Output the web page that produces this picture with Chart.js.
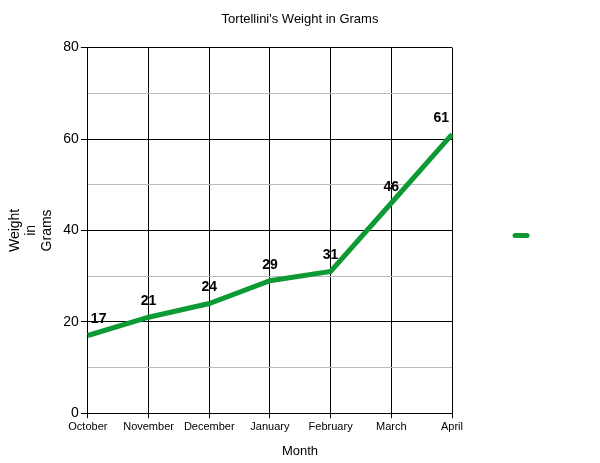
<!DOCTYPE html>
<html>
<head>
<meta charset="utf-8">
<script src="https://cdn.jsdelivr.net/npm/chart.js@4.4.0/dist/chart.umd.min.js"></script>
<style>
html,body{margin:0;padding:0;background:#fff;}
#wrap{width:600px;height:463px;}
</style>
</head>
<body>
<div id="wrap"><canvas id="c"></canvas></div>
<script>
const months = ['October','November','December','January','February','March','April'];
const weights = [17, 21, 24, 29, 31, 46, 61];
const yMin = 0, yMax = 80, yStep = 10, yLabelStep = 20;
const lineColor = '#0d9a35';
const FONT = '"Liberation Sans", Arial, sans-serif';

const labelPlugin = {
  id: 'pointLabels',
  afterDatasetsDraw(chart) {
    const ctx = chart.ctx;
    const meta = chart.getDatasetMeta(0);
    const area = chart.chartArea;
    ctx.save();
    ctx.font = 'bold 14px ' + FONT;
    ctx.fillStyle = '#000';
    ctx.textBaseline = 'middle';
    ctx.textAlign = 'center';
    meta.data.forEach((pt, i) => {
      const txt = String(weights[i]);
      const w = ctx.measureText(txt).width;
      let x = pt.x;
      x = Math.max(area.left + w / 2 + 3, Math.min(area.right - w / 2 - 3, x));
      ctx.fillText(txt, x, pt.y - 16);
    });
    ctx.restore();
  }
};

const legendPlugin = {
  id: 'legendLine',
  afterDraw(chart) {
    const ctx = chart.ctx;
    const area = chart.chartArea;
    const cx = area.right + 69;
    const cy = (area.top + area.bottom) / 2 + 5;
    ctx.save();
    ctx.strokeStyle = lineColor;
    ctx.lineWidth = 5;
    ctx.lineCap = 'round';
    ctx.beginPath();
    ctx.moveTo(cx - 6, cy);
    ctx.lineTo(cx + 6, cy);
    ctx.stroke();
    ctx.restore();
  }
};

new Chart(document.getElementById('c'), {
  type: 'line',
  data: {
    labels: months,
    datasets: [{
      label: '',
      data: weights,
      borderColor: lineColor,
      backgroundColor: lineColor,
      borderWidth: 5,
      pointRadius: 0,
      tension: 0,
      fill: false
    }]
  },
  options: {
    responsive: true,
    maintainAspectRatio: false,
    animation: false,
    layout: { padding: { left: 0, right: 0, top: 12, bottom: 4 } },
    plugins: {
      legend: { display: false },
      tooltip: { enabled: false },
      title: {
        display: true,
        text: "Tortellini's Weight in Grams",
        color: '#000',
        font: { family: FONT, size: 13, weight: 'normal' },
        padding: { top: 0, bottom: 20 }
      },
      subtitle: {
        display: true,
        position: 'bottom',
        text: 'Month',
        color: '#000',
        font: { family: FONT, size: 13, weight: 'normal' },
        padding: { top: 8, bottom: 0 }
      }
    },
    scales: {
      x: {
        offset: false,
        border: { color: '#000', width: 1 },
        grid: { color: '#000', lineWidth: 1, tickLength: 5, tickColor: '#000', drawOnChartArea: true },
        ticks: {
          color: '#000', maxRotation: 0, autoSkip: false, padding: 2,
          font: { family: FONT, size: 11 }
        },
        title: { display: false }
      },
      y: {
        min: yMin, max: yMax,
        border: { color: '#000', width: 1 },
        grid: {
          color: c => (c.tick && c.tick.value % yLabelStep === 0) ? '#000' : '#bbbbbb',
          tickColor: c => (c.tick && c.tick.value % yLabelStep === 0) ? '#000' : 'rgba(0,0,0,0)',
          tickLength: 7, lineWidth: 1
        },
        ticks: {
          stepSize: yStep, color: '#000', padding: 2,
          font: { family: FONT, size: 14 },
          callback: v => (v % yLabelStep === 0) ? v : ''
        },
        title: {
          display: true, text: ['Weight', 'in', 'Grams'], color: '#000',
          font: { family: FONT, size: 14, lineHeight: 1.15 },
          padding: { top: 7, bottom: 6 }
        }
      },
      legendSpace: {
        type: 'linear',
        position: 'right',
        display: true,
        grid: { display: false, drawOnChartArea: false },
        border: { display: false },
        ticks: { display: false },
        afterFit: s => { s.width = 148; }
      }
    }
  },
  plugins: [labelPlugin, legendPlugin]
});
</script>
</body>
</html>
